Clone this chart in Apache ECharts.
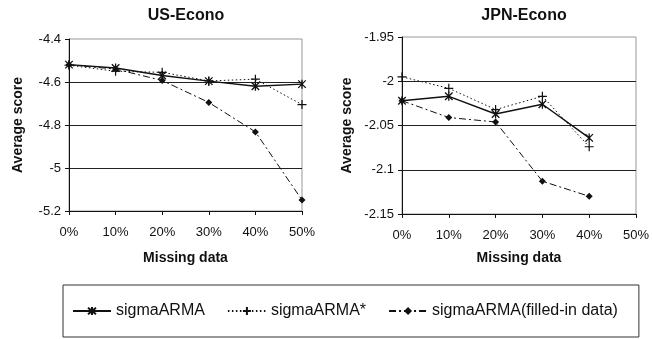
<!DOCTYPE html>
<html>
<head>
<meta charset="utf-8">
<script src="https://cdn.jsdelivr.net/npm/echarts@6/dist/echarts.min.js"></script>
<style>html,body{margin:0;padding:0;background:#fff}#c{width:652px;height:339px}</style>
</head>
<body>
<div id="c"></div>
<script>
var categories = ['0%', '10%', '20%', '30%', '40%', '50%'];
var seriesNames = ['sigmaARMA', 'sigmaARMA*', 'sigmaARMA(filled-in data)'];
var titles = ['US-Econo', 'JPN-Econo'];

var usSigma  = [-4.519, -4.535, -4.570, -4.596, -4.620, -4.610];
var usStar   = [-4.522, -4.550, -4.555, -4.595, -4.587, -4.705];
var usFilled = [-4.520, -4.540, -4.593, -4.695, -4.832, -5.149];

var jpSigma  = [-2.022, -2.017, -2.037, -2.026, -2.064, null];
var jpStar   = [-1.995, -2.008, -2.032, -2.017, -2.074, null];
var jpFilled = [-2.022, -2.041, -2.046, -2.113, -2.130, null];

var usTicks = {min: -5.2, max: -4.4, interval: 0.2};
var jpTicks = {min: -2.15, max: -1.95, interval: 0.05};

var FONT = 'Liberation Sans, Arial, sans-serif';
var asterisk = 'path://M0,0 L10,10 M10,0 L0,10 M5,-1 L5,11';
var plus = 'path://M5,0 L5,10 M0,5 L10,5';

function fmt(v) { return String(parseFloat(v.toFixed(2))); }

function xAxis(idx) {
  return {
    type: 'category', gridIndex: idx, data: categories, boundaryGap: false,
    name: 'Missing data', nameLocation: 'middle', nameGap: idx === 0 ? 40 : 37,
    nameTextStyle: {fontFamily: FONT, fontWeight: 'bold', fontSize: 14, color: '#111'},
    axisLine: {lineStyle: {color: '#111', width: 1}},
    axisTick: {show: true, length: 4, lineStyle: {color: '#111'}},
    axisLabel: {fontFamily: FONT, fontSize: 13, color: '#111', margin: 15, interval: 0},
    splitLine: {show: false}
  };
}
function yAxis(idx, t) {
  return {
    type: 'value', gridIndex: idx, min: t.min, max: t.max, interval: t.interval,
    name: 'Average score', nameLocation: 'middle', nameGap: idx === 0 ? 44 : 48,
    nameTextStyle: {fontFamily: FONT, fontWeight: 'bold', fontSize: 14, color: '#111'},
    axisLine: {show: true, lineStyle: {color: '#111', width: 1}},
    axisTick: {show: true, length: 4, lineStyle: {color: '#111'}},
    axisLabel: {fontFamily: FONT, fontSize: 13, color: '#111', margin: 8, formatter: fmt},
    splitLine: {show: true, showMaxLine: false, showMinLine: false, lineStyle: {color: '#222', width: 1}}
  };
}
function makeSeries(idx, a, b, c) {
  return [
    {name: seriesNames[0], type: 'line', xAxisIndex: idx, yAxisIndex: idx, data: a,
     symbol: asterisk, symbolSize: 9, symbolKeepAspect: true,
     itemStyle: {color: 'transparent', borderColor: '#111', borderWidth: 1.3},
     lineStyle: {color: '#111', width: 1.4, type: 'solid'}, z: 4},
    {name: seriesNames[1], type: 'line', xAxisIndex: idx, yAxisIndex: idx, data: b,
     symbol: plus, symbolSize: 9, symbolKeepAspect: true,
     itemStyle: {color: 'transparent', borderColor: '#111', borderWidth: 1.2},
     lineStyle: {color: '#111', width: 1, type: [1.5, 2.5]}, z: 3},
    {name: seriesNames[2], type: 'line', xAxisIndex: idx, yAxisIndex: idx, data: c,
     symbol: 'diamond', symbolSize: 7,
     itemStyle: {color: '#111', borderWidth: 0},
     lineStyle: {color: '#111', width: 1, type: [7, 3, 2, 3]}, z: 2}
  ];
}

var chart = echarts.init(document.getElementById('c'), null, {renderer: 'canvas'});
chart.setOption({
  animation: false,
  backgroundColor: '#fff',
  title: [
    {text: titles[0], left: 181, top: 3, textAlign: 'center',
     textStyle: {fontFamily: FONT, fontWeight: 'bold', fontSize: 16, color: '#111'}},
    {text: titles[1], left: 519, top: 3, textAlign: 'center',
     textStyle: {fontFamily: FONT, fontWeight: 'bold', fontSize: 16, color: '#111'}}
  ],
  grid: [
    {left: 69, top: 39, width: 233, height: 172, show: true, borderColor: '#999', borderWidth: 1},
    {left: 402, top: 37, width: 239, height: 177, show: true, borderColor: '#999', borderWidth: 1}
  ],
  xAxis: [xAxis(0), xAxis(1)],
  yAxis: [yAxis(0, usTicks), yAxis(1, jpTicks)],
  legend: {
    data: seriesNames, left: 63, top: 285, orient: 'horizontal',
    padding: [18, 21, 18, 9], itemGap: 22, itemWidth: 38, itemHeight: 10,
    borderColor: '#333', borderWidth: 1,
    textStyle: {fontFamily: FONT, fontSize: 16, color: '#111'}
  },
  series: makeSeries(0, usSigma, usStar, usFilled).concat(makeSeries(1, jpSigma, jpStar, jpFilled))
});
</script>
</body>
</html>
